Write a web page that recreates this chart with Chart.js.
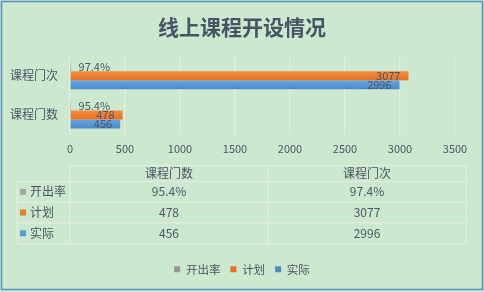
<!DOCTYPE html>
<html>
<head>
<meta charset="utf-8">
<script src="https://cdn.jsdelivr.net/npm/chart.js@4.4.1/dist/chart.umd.min.js"></script>
<style>
    html, body { margin: 0; padding: 0; background: #cce8cf; }
    #wrap { width: 484px; height: 292px; }
</style>
</head>
<body>
<div id="wrap"><canvas id="courseChart" width="484" height="292"></canvas></div>
<script>
'use strict';

// Data
const categories = ['课程门数', '课程门次'];
const seriesNames = ['开出率', '计划', '实际'];
const openRate = [0.954, 0.974];
const planned = [478, 3077];
const actual = [456, 2996];
const xMin = 0;
const xMax = 3500;
const xStep = 500;

const seriesValues = [openRate, planned, actual];
const seriesFormat = [
    v => (v * 100).toFixed(1) + '%',
    v => String(v),
    v => String(v)
];

// Look
const FONT = '"Noto Sans CJK SC", "Noto Sans", sans-serif';
const TEXT = '#4b5563';
const BG = '#cce8cf';
const LINE = '#e3ede3';
const CAT_PCT = 0.69;
const seriesColors = [
    { flat: '#a5a5a5', light: '#b0b0b0', dark: '#979797' },
    { flat: '#ed7d31', light: '#f58d3e', dark: '#e4702a' },
    { flat: '#5b9bd5', light: '#66a6e0', dark: '#4a88c8' }
];

// gradient per bar, worked out from the category scale
function barFill(di) {
    const col = seriesColors[di];
    return function (c) {
        const yScale = c.chart.scales.y;
        if (c.type !== 'data' || !yScale || yScale.bottom === undefined) return col.flat;
        const band = (yScale.bottom - yScale.top) / categories.length;
        const chunk = band * CAT_PCT / seriesNames.length;
        const center = yScale.getPixelForValue(c.dataIndex) + (di - (seriesNames.length - 1) / 2) * chunk;
        const g = c.chart.ctx.createLinearGradient(0, center - chunk / 2, 0, center + chunk / 2);
        g.addColorStop(0, col.light);
        g.addColorStop(1, col.dark);
        return g;
    };
}

const background = {
    id: 'background',
    afterLayout(chart) {
        // title and legend centred on the whole canvas, not just the plot width
        [chart.legend, chart.titleBlock].forEach(box => {
            if (box) {
                box.left = 0;
                box.right = chart.width;
                box.width = chart.width;
            }
        });
    },
    beforeDraw(chart) {
        const ctx = chart.ctx;
        ctx.save();
        ctx.fillStyle = BG;
        ctx.fillRect(0, 0, chart.width, chart.height);
        ctx.strokeStyle = '#5b8ec4';
        ctx.lineWidth = 1.5;
        ctx.strokeRect(1.5, 1.5, chart.width - 3, chart.height - 4);
        ctx.restore();
    }
};

const barLabels = {
    id: 'barLabels',
    afterDatasetsDraw(chart) {
        const ctx = chart.ctx;
        ctx.save();
        ctx.font = '11px ' + FONT;
        ctx.fillStyle = TEXT;
        ctx.textBaseline = 'middle';
        chart.data.datasets.forEach((ds, di) => {
            chart.getDatasetMeta(di).data.forEach((bar, i) => {
                const text = seriesFormat[di](ds.data[i]);
                const w = ctx.measureText(text).width;
                if (bar.x - bar.base > w + 16) {
                    ctx.textAlign = 'right';
                    ctx.fillText(text, bar.x - 8, bar.y);
                } else {
                    ctx.textAlign = 'left';
                    ctx.fillText(text, bar.base + 8, bar.y);
                }
            });
        });
        ctx.restore();
    }
};

// data table under the axis
const dataTable = {
    id: 'dataTable',
    afterDraw(chart) {
        const ctx = chart.ctx;
        const area = chart.chartArea;
        const left = area.left;
        const right = area.right + 11;
        const keyLeft = 17;
        const top = area.bottom + 31;
        const headH = 16;
        const rowH = 20.7;
        const colW = (right - left) / categories.length;
        const bottom = top + headH + rowH * seriesNames.length;

        ctx.save();
        ctx.strokeStyle = LINE;
        ctx.lineWidth = 1.2;
        ctx.beginPath();
        ctx.moveTo(left, top); ctx.lineTo(right, top);
        for (let r = 0; r <= seriesNames.length; r++) {
            const y = top + headH + r * rowH;
            ctx.moveTo(keyLeft, y); ctx.lineTo(right, y);
        }
        ctx.moveTo(keyLeft, top + headH); ctx.lineTo(keyLeft, bottom);
        for (let c = 0; c <= categories.length; c++) {
            const x = left + c * colW;
            ctx.moveTo(x, top); ctx.lineTo(x, bottom);
        }
        ctx.stroke();

        ctx.font = '12px ' + FONT;
        ctx.fillStyle = TEXT;
        ctx.textBaseline = 'middle';
        ctx.textAlign = 'center';
        categories.forEach((cat, c) => {
            ctx.fillText(cat, left + colW * (c + 0.5), top + headH / 2);
        });
        seriesNames.forEach((name, r) => {
            const cy = top + headH + rowH * (r + 0.5);
            ctx.fillStyle = seriesColors[r].flat;
            ctx.fillRect(keyLeft + 3, cy - 3, 6, 6);
            ctx.fillStyle = TEXT;
            ctx.textAlign = 'left';
            ctx.fillText(name, keyLeft + 13, cy);
            ctx.textAlign = 'center';
            seriesValues[r].forEach((v, c) => {
                ctx.fillText(seriesFormat[r](v), left + colW * (c + 0.5), cy);
            });
        });
        ctx.restore();
    }
};

function chartInit() {
    const canvas = document.getElementById('courseChart');
    const ctx = canvas.getContext('2d');
    Chart.defaults.font.family = FONT;
    Chart.defaults.color = TEXT;

    return new Chart(ctx, {
        type: 'bar',
        data: {
            labels: categories,
            datasets: seriesNames.map((name, di) => ({
                label: name,
                data: seriesValues[di],
                backgroundColor: barFill(di),
                borderWidth: 0,
                categoryPercentage: CAT_PCT,
                barPercentage: 1
            }))
        },
        options: {
            indexAxis: 'y',
            responsive: false,
            animation: false,
            devicePixelRatio: 1,
            layout: { padding: { left: 0, right: 29, top: 0, bottom: 7 } },
            scales: {
                x: {
                    min: xMin,
                    max: xMax,
                    ticks: {
                        stepSize: xStep,
                        padding: 8,
                        font: { size: 11 },
                        color: TEXT,
                        callback: v => String(v)
                    },
                    grid: { color: LINE, lineWidth: 1.2, drawTicks: false },
                    border: { display: false },
                    afterFit: scale => { scale.height = 119; }
                },
                y: {
                    reverse: true,
                    ticks: { padding: 12, font: { size: 12 }, color: TEXT },
                    grid: { display: false, drawTicks: false },
                    border: { display: false },
                    afterFit: scale => { scale.width = 70; }
                }
            },
            plugins: {
                title: {
                    display: true,
                    text: '线上课程开设情况',
                    color: '#465466',
                    font: { size: 21, weight: 'bold' },
                    padding: { top: 14, bottom: 17 }
                },
                legend: {
                    position: 'bottom',
                    labels: {
                        boxWidth: 6,
                        boxHeight: 6,
                        padding: 10,
                        color: TEXT,
                        font: { size: 11.5 }
                    }
                },
                tooltip: { enabled: false }
            }
        },
        plugins: [background, barLabels, dataTable]
    });
}

chartInit();
</script>
</body>
</html>
